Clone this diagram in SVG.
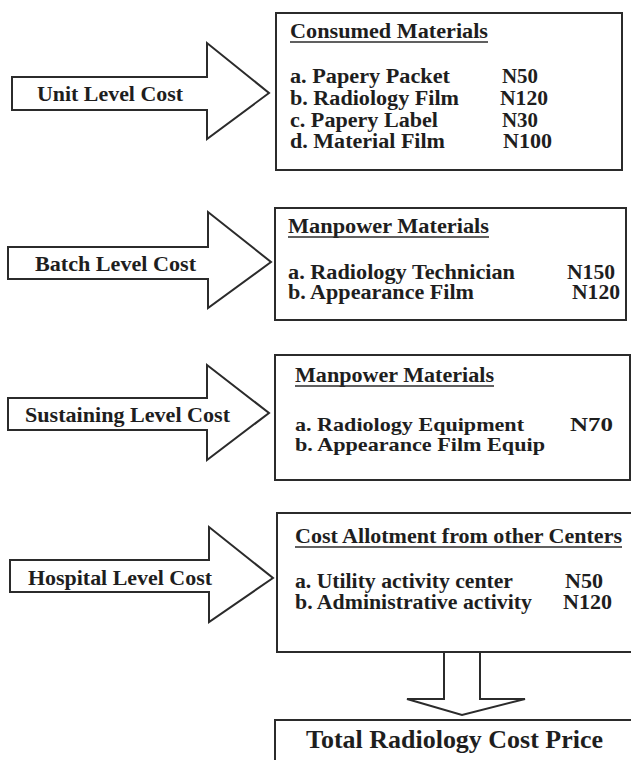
<svg xmlns="http://www.w3.org/2000/svg" width="631" height="760" viewBox="0 0 631 760">
<style>
.shape{fill:#fff;stroke:#2b2b2b;stroke-width:2}
.t{font-family:"Liberation Serif","Times New Roman",serif;font-weight:bold;fill:#1e1e1e}
.lbl{font-size:22px}
.it{font-size:20.5px}
.it2{font-size:19px}
.ul{stroke:#2b2b2b;stroke-width:1.3}
</style>
<rect width="631" height="760" fill="#fff"/>
<g id="connectors">
<polygon class="shape" points="12,77 207,77 207,43 269,93 207,139 207,110 12,110"/>
<polygon class="shape" points="8,247 208,247 208,212 271,262 208,308 208,279 8,279"/>
<polygon class="shape" points="8,398 207,398 207,365 269,413 207,460 207,430 8,430"/>
<polygon class="shape" points="10,560 209,560 209,527 273,578 209,622 209,592 10,592"/>
<polygon class="shape" points="444,652 480,652 480,699 525,699 462,715 407,699 444,699"/>
</g>
<g id="label-unit"><text class="t lbl" x="37" y="101" textLength="146" lengthAdjust="spacingAndGlyphs">Unit Level Cost</text></g>
<g id="label-batch"><text class="t lbl" x="35" y="271" textLength="161" lengthAdjust="spacingAndGlyphs">Batch Level Cost</text></g>
<g id="label-sustaining"><text class="t lbl" x="25" y="422" textLength="205" lengthAdjust="spacingAndGlyphs">Sustaining Level Cost</text></g>
<g id="label-hospital"><text class="t lbl" x="28" y="585" textLength="184" lengthAdjust="spacingAndGlyphs">Hospital Level Cost</text></g>
<g id="box-consumed">
<rect class="shape" x="276" y="13" width="346" height="157"/>
<text class="t it" x="290" y="38" textLength="198" lengthAdjust="spacingAndGlyphs">Consumed Materials</text>
<line class="ul" x1="290" y1="42" x2="488" y2="42"/>
<text class="t it" x="290" y="83" textLength="160" lengthAdjust="spacingAndGlyphs">a. Papery Packet</text>
<text class="t it" x="502" y="83" textLength="36" lengthAdjust="spacingAndGlyphs">N50</text>
<text class="t it" x="290" y="105" textLength="169" lengthAdjust="spacingAndGlyphs">b. Radiology Film</text>
<text class="t it" x="500" y="105" textLength="48" lengthAdjust="spacingAndGlyphs">N120</text>
<text class="t it" x="290" y="127" textLength="148" lengthAdjust="spacingAndGlyphs">c. Papery Label</text>
<text class="t it" x="502" y="127" textLength="36" lengthAdjust="spacingAndGlyphs">N30</text>
<text class="t it" x="290" y="148" textLength="155" lengthAdjust="spacingAndGlyphs">d. Material Film</text>
<text class="t it" x="503" y="148" textLength="49" lengthAdjust="spacingAndGlyphs">N100</text>
</g>
<g id="box-manpower-1">
<rect class="shape" x="275" y="208" width="351" height="112"/>
<text class="t it" x="288" y="233" textLength="201" lengthAdjust="spacingAndGlyphs">Manpower Materials</text>
<line class="ul" x1="288" y1="237" x2="489" y2="237"/>
<text class="t it" x="288" y="279" textLength="227" lengthAdjust="spacingAndGlyphs">a. Radiology Technician</text>
<text class="t it" x="567" y="279" textLength="48" lengthAdjust="spacingAndGlyphs">N150</text>
<text class="t it" x="288" y="299" textLength="186" lengthAdjust="spacingAndGlyphs">b. Appearance Film</text>
<text class="t it" x="572" y="299" textLength="48" lengthAdjust="spacingAndGlyphs">N120</text>
</g>
<g id="box-manpower-2">
<rect class="shape" x="275" y="355" width="355" height="125"/>
<text class="t it" x="295" y="382" textLength="199" lengthAdjust="spacingAndGlyphs">Manpower Materials</text>
<line class="ul" x1="295" y1="386" x2="494" y2="386"/>
<text class="t it2" x="295" y="431" textLength="229" lengthAdjust="spacingAndGlyphs">a. Radiology Equipment</text>
<text class="t it2" x="570" y="431" textLength="43" lengthAdjust="spacingAndGlyphs">N70</text>
<text class="t it2" x="295" y="451" textLength="250" lengthAdjust="spacingAndGlyphs">b. Appearance Film Equip</text>
</g>
<g id="box-allotment">
<rect class="shape" x="277" y="513" width="360" height="139"/>
<text class="t it" x="295" y="543" textLength="327" lengthAdjust="spacingAndGlyphs">Cost Allotment from other Centers</text>
<line class="ul" x1="295" y1="547" x2="622" y2="547"/>
<text class="t it" x="295" y="588" textLength="218" lengthAdjust="spacingAndGlyphs">a. Utility activity center</text>
<text class="t it" x="565" y="588" textLength="38" lengthAdjust="spacingAndGlyphs">N50</text>
<text class="t it" x="295" y="609" textLength="237" lengthAdjust="spacingAndGlyphs">b. Administrative activity</text>
<text class="t it" x="563" y="609" textLength="49" lengthAdjust="spacingAndGlyphs">N120</text>
</g>
<g id="box-total">
<rect class="shape" x="275" y="720" width="362" height="60"/>
<text class="t" font-size="26" x="306" y="748" textLength="297" lengthAdjust="spacingAndGlyphs">Total Radiology Cost Price</text>
</g>
</svg>
